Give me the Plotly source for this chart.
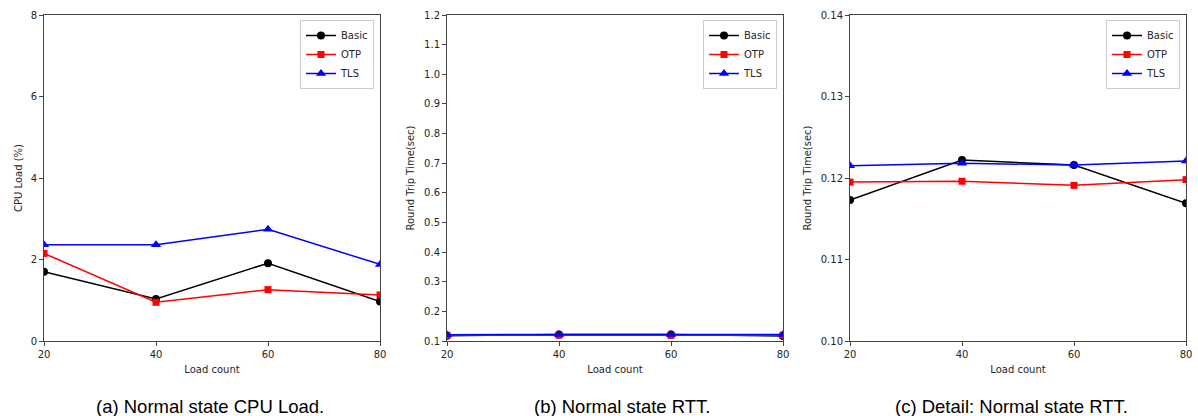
import plotly.graph_objects as go

load_count = [20, 40, 60, 80]
series_names = ["Basic", "OTP", "TLS"]

cpu_basic = [1.70, 1.03, 1.91, 0.97]
cpu_otp = [2.15, 0.95, 1.26, 1.13]
cpu_tls = [2.36, 2.36, 2.74, 1.88]

rtt_basic = [0.1173, 0.1222, 0.1216, 0.1169]
rtt_otp = [0.1195, 0.1196, 0.1191, 0.1198]
rtt_tls = [0.1215, 0.1218, 0.1216, 0.1221]

captions = ["(a) Normal state CPU Load.", "(b) Normal state RTT.", "(c) Detail: Normal state RTT."]
y_titles = ["CPU Load (%)", "Round Trip Time(sec)", "Round Trip Time(sec)"]

colors = ["#000000", "#ff0000", "#0000ff"]
symbols = ["circle", "square", "triangle-up"]
msizes = [8, 7, 9]

W, H = 1198, 416
fig = go.Figure()

panels = [
    dict(data=[cpu_basic, cpu_otp, cpu_tls], xl=44, xr=380, yr=[0, 8], dtick=2, fmt="d", cap_x=210, standoff=6),
    dict(data=[rtt_basic, rtt_otp, rtt_tls], xl=447, xr=783, yr=[0.1, 1.2], dtick=0.1, fmt=".1f", cap_x=622, standoff=7),
    dict(data=[rtt_basic, rtt_otp, rtt_tls], xl=850, xr=1186, yr=[0.10, 0.14], dtick=0.01, fmt=".2f", cap_x=1011, standoff=7),
]

top_px, bot_px = 15, 341
ydom = [1 - bot_px / H, 1 - top_px / H]
tickfont = dict(family="DejaVu Sans", size=10, color="#262626")
layout = {}
for i, p in enumerate(panels):
    n = "" if i == 0 else str(i + 1)
    leg = "legend" if i == 0 else f"legend{i+1}"
    for k, (name, vals) in enumerate(zip(series_names, p["data"])):
        fig.add_trace(go.Scatter(
            x=load_count, y=vals, name=name, mode="lines+markers",
            line=dict(color=colors[k], width=1.5),
            marker=dict(symbol=symbols[k], size=msizes[k], color=colors[k]),
            xaxis="x" + n, yaxis="y" + n, legend=leg, showlegend=True,
        ))
    xd = [p["xl"] / W, p["xr"] / W]
    layout["xaxis" + n] = dict(
        domain=xd, range=[20, 80], anchor="y" + n, tickvals=load_count,
        showgrid=False, zeroline=False, showline=True, mirror=True, automargin=False,
        linecolor="#444", linewidth=1, ticks="outside", ticklen=4, tickcolor="#444",
        tickfont=tickfont,
        title=dict(text="Load count", font=dict(family="DejaVu Sans", size=10, color="#262626"), standoff=6),
    )
    layout["yaxis" + n] = dict(
        domain=ydom, range=p["yr"], anchor="x" + n, dtick=p["dtick"], tick0=0,
        tickformat=p["fmt"], automargin=False,
        showgrid=False, zeroline=False, showline=True, mirror=True,
        linecolor="#444", linewidth=1, ticks="outside", ticklen=4, tickcolor="#444",
        tickfont=tickfont,
        title=dict(text=y_titles[i], font=dict(family="DejaVu Sans", size=10, color="#262626"), standoff=p["standoff"]),
    )
    layout[leg] = dict(
        x=(p["xr"] - 6) / W, y=1 - 20 / H, xanchor="right", yanchor="top",
        xref="paper", yref="paper",
        bgcolor="rgba(255,255,255,0.9)", bordercolor="#cccccc", borderwidth=1,
        font=dict(family="DejaVu Sans", size=10, color="#262626"),
        itemwidth=30, tracegroupgap=0,
    )
    fig.add_annotation(
        x=p["cap_x"] / W, y=1 - 406 / H, xref="paper", yref="paper",
        text=captions[i], showarrow=False, xanchor="center", yanchor="middle",
        font=dict(family="Liberation Sans", size=18.5, color="#000000"),
    )

fig.update_layout(
    width=W, height=H, margin=dict(l=0, r=0, t=0, b=0, autoexpand=False),
    paper_bgcolor="white", plot_bgcolor="white",
    **layout,
)
fig.write_html("out.html", config={"displayModeBar": False},
               post_script="document.body.style.margin='0';document.body.style.overflow='hidden';")
